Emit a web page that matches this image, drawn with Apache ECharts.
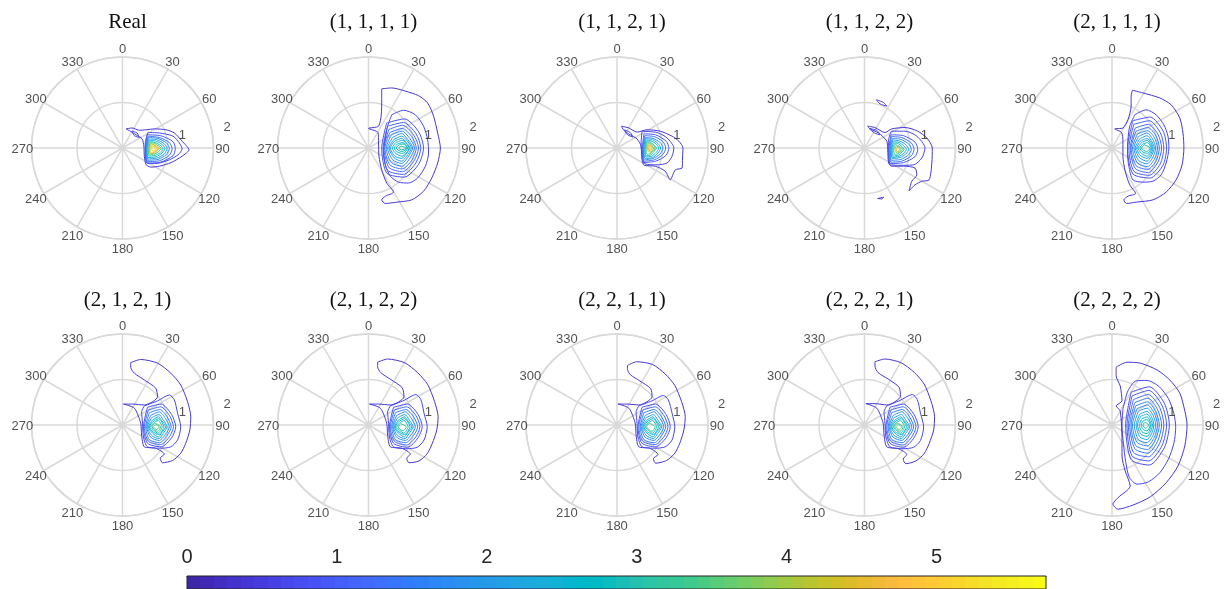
<!DOCTYPE html>
<html><head><meta charset="utf-8">
<script src="https://cdn.jsdelivr.net/npm/echarts@6/dist/echarts.min.js"></script>
<style>html,body{margin:0;padding:0;background:#fff}#c{width:1224px;height:589px}</style>
</head><body><div id="c"></div>
<script>
// ---------------- DATA ----------------
const titles = ['Real','(1, 1, 1, 1)','(1, 1, 2, 1)','(1, 1, 2, 2)','(2, 1, 1, 1)',
                '(2, 1, 2, 1)','(2, 1, 2, 2)','(2, 2, 1, 1)','(2, 2, 2, 1)','(2, 2, 2, 2)'];
const angleTicks = [0, 30, 60, 90, 120, 150, 180, 210, 240, 270, 300, 330];
const radiusMax = 2, radiusStep = 1;
const radialTicks = [1, 2];
const colorbarTicks = [0, 1, 2, 3, 4, 5];
const colorbarMax = 5.73;

// contour lines: [level, [[x, y], ...]]  (x = east, y = north, in radius units)
const contReal = [
 [0.4,[[0.08,0.42],[0.21,0.44],[0.37,0.39],[0.52,0.40],[0.70,0.42],[0.96,0.40],[1.14,0.33],[1.31,0.15],[1.46,-0.04],[1.31,-0.18],[1.07,-0.32],[0.81,-0.40],[0.63,-0.42],[0.52,-0.37],[0.48,-0.18],[0.47,0.04],[0.43,0.20],[0.30,0.29],[0.17,0.37]]],
 [0.65,[[0.21,0.37],[0.32,0.33],[0.37,0.23],[0.26,0.27]]],
 [0.65,[[0.56,0.34],[0.81,0.33],[1.11,0.26],[1.25,0.11],[1.31,-0.02],[1.22,-0.15],[1.03,-0.26],[0.74,-0.34],[0.56,-0.34],[0.50,-0.18],[0.50,0.11]]],
 [0.9,[[0.54,0.29],[0.84,0.27],[1.11,0.14],[1.16,-0.01],[1.11,-0.17],[0.84,-0.31],[0.53,-0.33],[0.51,-0.01]]],
 [1.3,[[0.56,0.26],[0.81,0.23],[1.03,0.12],[1.09,-0.01],[1.03,-0.16],[0.81,-0.28],[0.54,-0.30],[0.52,-0.01]]],
 [1.7,[[0.56,0.23],[0.78,0.21],[0.97,0.11],[1.03,-0.01],[0.97,-0.14],[0.78,-0.25],[0.55,-0.27],[0.53,-0.01]]],
 [2.1,[[0.57,0.20],[0.76,0.18],[0.92,0.09],[0.98,-0.01],[0.92,-0.13],[0.76,-0.22],[0.56,-0.24],[0.53,-0.01]]],
 [2.5,[[0.58,0.17],[0.74,0.15],[0.87,0.08],[0.93,-0.01],[0.87,-0.11],[0.74,-0.19],[0.56,-0.21],[0.54,-0.01]]],
 [3.0,[[0.59,0.14],[0.72,0.12],[0.83,0.06],[0.89,-0.01],[0.83,-0.10],[0.72,-0.16],[0.58,-0.18],[0.56,-0.01]]],
 [3.5,[[0.61,0.12],[0.71,0.10],[0.79,0.05],[0.85,-0.01],[0.79,-0.08],[0.71,-0.13],[0.59,-0.15],[0.57,-0.01]]],
 [4.0,[[0.62,0.10],[0.70,0.07],[0.75,0.04],[0.81,-0.01],[0.75,-0.07],[0.70,-0.11],[0.61,-0.13],[0.59,-0.01]]],
 [4.5,[[0.64,0.07],[0.69,0.06],[0.78,-0.01],[0.69,-0.10],[0.62,-0.11],[0.60,-0.01]]],
 [5.0,[[0.65,0.05],[0.75,-0.01],[0.69,-0.08],[0.62,-0.01]]],
 [5.4,[[0.67,0.03],[0.73,-0.01],[0.68,-0.07],[0.64,-0.01]]]
];
const cont1111 = [
 [0.4,[[0.29,1.30],[0.51,1.32],[0.81,1.25],[1.10,1.15],[1.30,0.99],[1.43,0.70],[1.52,0.33],[1.58,0],[1.52,-0.33],[1.39,-0.66],[1.21,-0.95],[0.95,-1.14],[0.62,-1.19],[0.37,-1.22],[0.29,-1.14],[0.37,-1.06],[0.55,-0.97],[0.40,-0.77],[0.29,-0.48],[0.23,-0.18],[0.22,0.11],[0.21,0.34],[0.00,0.43],[0.22,0.48],[0.28,0.73],[0.29,1.06]]],
 [0.6,[[0.51,0.73],[0.77,0.83],[1.03,0.73],[1.21,0.48],[1.30,0.18],[1.32,-0.11],[1.25,-0.40],[1.08,-0.66],[0.88,-0.77],[0.66,-0.75],[0.48,-0.62],[0.37,-0.37],[0.33,-0.07],[0.37,0.22],[0.42,0.48]]],
 [0.8,[[0.40,0.55],[0.79,0.64],[1.10,0.36],[1.21,0],[1.10,-0.36],[0.79,-0.64],[0.40,-0.55],[0.29,0]]],
 [1.0,[[0.42,0.48],[0.77,0.56],[1.04,0.32],[1.15,0],[1.04,-0.33],[0.77,-0.58],[0.42,-0.49],[0.32,0]]],
 [1.2,[[0.45,0.41],[0.75,0.50],[0.99,0.29],[1.10,0],[0.99,-0.30],[0.75,-0.52],[0.45,-0.43],[0.34,0]]],
 [1.4,[[0.47,0.34],[0.74,0.43],[0.95,0.25],[1.05,0],[0.95,-0.27],[0.74,-0.46],[0.47,-0.37],[0.36,0]]],
 [1.6,[[0.50,0.29],[0.74,0.37],[0.90,0.22],[1.01,0],[0.90,-0.24],[0.74,-0.40],[0.50,-0.32],[0.39,0]]],
 [1.8,[[0.53,0.23],[0.73,0.32],[0.86,0.19],[0.97,0],[0.86,-0.21],[0.73,-0.34],[0.53,-0.26],[0.42,0]]],
 [2.0,[[0.56,0.19],[0.73,0.26],[0.84,0.17],[0.94,0],[0.84,-0.18],[0.73,-0.29],[0.56,-0.21],[0.45,0]]],
 [2.2,[[0.57,0.15],[0.73,0.21],[0.82,0.13],[0.91,0],[0.82,-0.14],[0.73,-0.23],[0.57,-0.17],[0.48,0]]],
 [2.4,[[0.60,0.12],[0.74,0.17],[0.89,0],[0.74,-0.18],[0.60,-0.12],[0.52,0]]],
 [2.6,[[0.64,0.09],[0.75,0.12],[0.86,0],[0.75,-0.12],[0.64,-0.09],[0.56,0]]],
 [2.8,[[0.67,0.07],[0.76,0.09],[0.85,0],[0.73,-0.08],[0.61,0]]],
 [3.0,[[0.72,0.04],[0.84,0],[0.73,-0.04],[0.66,0]]]
];
const cont1121 = [
 [0.4,[[0.10,0.48],[0.26,0.44],[0.44,0.35],[0.66,0.40],[0.95,0.37],[1.21,0.26],[1.36,0.15],[1.45,0],[1.44,-0.22],[1.43,-0.44],[1.28,-0.48],[1.17,-0.70],[1.06,-0.51],[0.84,-0.40],[0.60,-0.38],[0.55,-0.26],[0.53,0.04],[0.44,0.20],[0.29,0.29],[0.15,0.39]]],
 [0.65,[[0.16,0.40],[0.29,0.34],[0.35,0.24],[0.23,0.29]]],
 [0.65,[[0.55,0.37],[0.88,0.34],[1.10,0.22],[1.25,0],[1.21,-0.18],[1.10,-0.33],[0.88,-0.37],[0.62,-0.35],[0.55,-0.18],[0.53,0.11]]],
 [0.9,[[0.59,0.31],[0.85,0.29],[1.08,0.15],[1.14,0],[1.08,-0.16],[0.85,-0.29],[0.58,-0.32],[0.56,0]]],
 [1.3,[[0.61,0.27],[0.82,0.25],[1.01,0.14],[1.07,0],[1.01,-0.14],[0.82,-0.26],[0.59,-0.29],[0.57,0]]],
 [1.7,[[0.62,0.23],[0.79,0.21],[0.95,0.12],[1.01,0],[0.95,-0.13],[0.79,-0.23],[0.60,-0.26],[0.58,0]]],
 [2.1,[[0.63,0.21],[0.78,0.18],[0.90,0.10],[0.96,0],[0.90,-0.11],[0.78,-0.21],[0.62,-0.23],[0.59,0]]],
 [2.5,[[0.64,0.18],[0.76,0.15],[0.86,0.09],[0.92,0],[0.86,-0.10],[0.76,-0.18],[0.63,-0.20],[0.61,0]]],
 [3.0,[[0.66,0.15],[0.75,0.12],[0.81,0.07],[0.87,0],[0.81,-0.08],[0.75,-0.15],[0.64,-0.17],[0.62,0]]],
 [3.5,[[0.67,0.12],[0.74,0.10],[0.84,0],[0.74,-0.12],[0.66,-0.14],[0.64,0]]],
 [4.0,[[0.69,0.10],[0.81,0],[0.73,-0.10],[0.66,0]]],
 [4.5,[[0.70,0.07],[0.78,0],[0.73,-0.07],[0.68,0]]],
 [4.9,[[0.72,0.05],[0.76,0],[0.73,-0.05],[0.70,0]]]
];
const cont1122 = [
 [0.4,[[0.07,0.48],[0.23,0.45],[0.45,0.34],[0.60,0.42],[0.89,0.45],[1.15,0.38],[1.37,0.22],[1.49,0],[1.48,-0.33],[1.42,-0.70],[1.26,-0.73],[1.11,-0.81],[0.98,-0.94],[1.04,-0.73],[1.15,-0.59],[1.11,-0.44],[0.86,-0.40],[0.60,-0.40],[0.53,-0.33],[0.51,-0.04],[0.49,0.15],[0.31,0.33],[0.12,0.42]]],
 [0.4,[[0.26,1.06],[0.42,1.00],[0.49,0.92],[0.34,0.97]]],
 [0.4,[[0.29,-1.11],[0.42,-1.08],[0.38,-1.12]]],
 [0.65,[[0.10,0.43],[0.27,0.39],[0.34,0.29],[0.22,0.33]]],
 [0.65,[[0.59,0.37],[0.89,0.37],[1.15,0.26],[1.33,0],[1.26,-0.22],[1.08,-0.37],[0.78,-0.38],[0.56,-0.37],[0.53,-0.11],[0.53,0.18]]],
 [0.9,[[0.58,0.29],[0.86,0.27],[1.11,0.13],[1.17,-0.03],[1.11,-0.19],[0.86,-0.32],[0.56,-0.34],[0.54,-0.03]]],
 [1.3,[[0.59,0.25],[0.82,0.23],[1.03,0.11],[1.09,-0.03],[1.03,-0.17],[0.82,-0.29],[0.58,-0.31],[0.56,-0.03]]],
 [1.7,[[0.61,0.21],[0.80,0.19],[0.97,0.09],[1.03,-0.03],[0.97,-0.15],[0.80,-0.25],[0.59,-0.27],[0.57,-0.03]]],
 [2.1,[[0.62,0.18],[0.78,0.15],[0.91,0.07],[0.97,-0.03],[0.91,-0.13],[0.78,-0.21],[0.61,-0.23],[0.59,-0.03]]],
 [2.5,[[0.64,0.14],[0.76,0.12],[0.86,0.05],[0.92,-0.03],[0.86,-0.12],[0.76,-0.18],[0.62,-0.21],[0.60,-0.03]]],
 [2.9,[[0.66,0.11],[0.75,0.09],[0.87,-0.03],[0.75,-0.15],[0.64,-0.18],[0.62,-0.03]]],
 [3.3,[[0.68,0.08],[0.84,-0.03],[0.74,-0.12],[0.67,-0.15],[0.64,-0.03]]],
 [3.8,[[0.70,0.05],[0.80,-0.03],[0.73,-0.12],[0.67,-0.03]]],
 [4.3,[[0.73,0.02],[0.77,-0.03],[0.73,-0.09],[0.70,-0.03]]]
];
const cont2111 = [
 [0.4,[[0.45,1.27],[0.68,1.21],[1.05,1.10],[1.30,0.95],[1.49,0.66],[1.56,0.33],[1.58,0],[1.54,-0.37],[1.41,-0.70],[1.19,-0.97],[0.90,-1.14],[0.53,-1.19],[0.32,-1.22],[0.26,-1.14],[0.35,-1.06],[0.52,-1.00],[0.39,-0.81],[0.29,-0.51],[0.24,-0.18],[0.24,0.15],[0.21,0.34],[0.06,0.42],[0.24,0.44],[0.35,0.62],[0.42,0.92],[0.42,1.14]]],
 [0.6,[[0.50,0.73],[0.75,0.84],[0.97,0.73],[1.14,0.51],[1.23,0.26],[1.25,0],[1.19,-0.33],[1.08,-0.59],[0.90,-0.73],[0.68,-0.75],[0.46,-0.70],[0.37,-0.40],[0.34,-0.11],[0.35,0.18],[0.39,0.48]]],
 [0.8,[[0.46,0.60],[0.84,0.68],[1.12,0.38],[1.20,0],[1.12,-0.38],[0.84,-0.66],[0.46,-0.57],[0.34,0]]],
 [1.0,[[0.48,0.52],[0.82,0.60],[1.06,0.34],[1.14,0],[1.06,-0.35],[0.82,-0.60],[0.48,-0.51],[0.37,0]]],
 [1.2,[[0.51,0.44],[0.80,0.52],[1.01,0.30],[1.09,0],[1.01,-0.31],[0.80,-0.54],[0.51,-0.45],[0.40,0]]],
 [1.4,[[0.53,0.37],[0.79,0.45],[0.97,0.26],[1.04,0],[0.97,-0.28],[0.79,-0.47],[0.53,-0.39],[0.42,0]]],
 [1.6,[[0.56,0.31],[0.78,0.38],[0.93,0.23],[1.00,0],[0.93,-0.25],[0.78,-0.41],[0.56,-0.33],[0.45,0]]],
 [1.8,[[0.58,0.25],[0.77,0.33],[0.89,0.20],[0.96,0],[0.89,-0.22],[0.77,-0.35],[0.58,-0.27],[0.48,0]]],
 [2.0,[[0.61,0.20],[0.77,0.27],[0.86,0.17],[0.93,0],[0.86,-0.18],[0.77,-0.29],[0.61,-0.22],[0.51,0]]],
 [2.2,[[0.63,0.16],[0.77,0.21],[0.85,0.13],[0.90,0],[0.85,-0.14],[0.77,-0.23],[0.63,-0.17],[0.54,0]]],
 [2.4,[[0.65,0.12],[0.77,0.17],[0.88,0],[0.77,-0.18],[0.65,-0.12],[0.57,0]]],
 [2.6,[[0.68,0.09],[0.78,0.12],[0.86,0],[0.78,-0.12],[0.68,-0.09],[0.61,0]]],
 [2.8,[[0.71,0.07],[0.84,0],[0.76,-0.08],[0.65,0]]]
];
const cont2121 = [
 [0.4,[[0.18,1.37],[0.40,1.44],[0.77,1.36],[1.06,1.14],[1.28,0.88],[1.43,0.51],[1.50,0.18],[1.48,-0.11],[1.39,-0.40],[1.28,-0.62],[1.10,-0.78],[0.88,-0.83],[0.83,-0.73],[0.92,-0.64],[0.73,-0.51],[0.48,-0.48],[0.42,-0.22],[0.40,0.04],[0.26,0.37],[0.02,0.46],[0.22,0.46],[0.48,0.44],[0.77,0.62],[0.73,0.81],[0.48,0.99],[0.26,1.14],[0.18,1.27]]],
 [0.6,[[0.48,0.42],[0.77,0.53],[1.03,0.66],[1.14,0.55],[1.21,0.26],[1.28,-0.04],[1.21,-0.33],[1.06,-0.48],[0.84,-0.51],[0.55,-0.48],[0.46,-0.26],[0.44,0.04],[0.42,0.29]]],
 [0.85,[[0.55,0.39],[0.85,0.46],[1.08,0.23],[1.17,-0.04],[1.08,-0.28],[0.85,-0.48],[0.55,-0.40],[0.46,-0.04]]],
 [1.15,[[0.57,0.33],[0.84,0.40],[1.03,0.21],[1.12,-0.04],[1.03,-0.26],[0.84,-0.43],[0.57,-0.36],[0.48,-0.04]]],
 [1.45,[[0.59,0.27],[0.82,0.34],[0.98,0.18],[1.07,-0.04],[0.98,-0.23],[0.82,-0.39],[0.59,-0.32],[0.51,-0.04]]],
 [1.75,[[0.62,0.21],[0.81,0.29],[0.94,0.15],[1.03,-0.04],[0.94,-0.21],[0.81,-0.34],[0.62,-0.27],[0.53,-0.04]]],
 [2.05,[[0.64,0.16],[0.80,0.23],[0.89,0.12],[0.98,-0.04],[0.89,-0.19],[0.80,-0.30],[0.64,-0.23],[0.55,-0.04]]],
 [2.35,[[0.66,0.11],[0.79,0.18],[0.86,0.10],[0.95,-0.04],[0.86,-0.17],[0.79,-0.26],[0.66,-0.18],[0.57,-0.04]]],
 [2.65,[[0.67,0.08],[0.79,0.14],[0.91,-0.04],[0.79,-0.21],[0.67,-0.15],[0.59,-0.04]]],
 [2.95,[[0.69,0.05],[0.78,0.10],[0.87,-0.04],[0.78,-0.18],[0.69,-0.12],[0.62,-0.04]]],
 [3.25,[[0.71,0.04],[0.84,-0.04],[0.77,-0.14],[0.65,-0.04]]],
 [3.55,[[0.73,0.01],[0.81,-0.04],[0.75,-0.10],[0.68,-0.04]]]
];
const cont2122 = [
 [0.4,[[0.20,1.38],[0.42,1.45],[0.79,1.37],[1.08,1.15],[1.30,0.89],[1.45,0.52],[1.53,0.18],[1.50,-0.11],[1.40,-0.41],[1.29,-0.63],[1.11,-0.79],[0.89,-0.83],[0.84,-0.73],[0.92,-0.64],[0.73,-0.51],[0.48,-0.48],[0.42,-0.22],[0.40,0.04],[0.26,0.37],[0.02,0.46],[0.22,0.46],[0.48,0.44],[0.78,0.62],[0.74,0.82],[0.49,1.00],[0.27,1.15],[0.20,1.28]]],
 [0.6,[[0.48,0.42],[0.78,0.54],[1.04,0.67],[1.15,0.56],[1.22,0.26],[1.29,-0.04],[1.22,-0.33],[1.07,-0.49],[0.85,-0.52],[0.55,-0.48],[0.46,-0.26],[0.44,0.04],[0.42,0.29]]],
 [0.85,[[0.55,0.39],[0.86,0.46],[1.09,0.23],[1.18,-0.04],[1.09,-0.28],[0.86,-0.49],[0.55,-0.40],[0.46,-0.04]]],
 [1.15,[[0.57,0.33],[0.84,0.40],[1.04,0.21],[1.13,-0.04],[1.04,-0.26],[0.84,-0.44],[0.57,-0.36],[0.48,-0.04]]],
 [1.45,[[0.59,0.27],[0.82,0.34],[0.99,0.18],[1.08,-0.04],[0.99,-0.23],[0.82,-0.39],[0.59,-0.32],[0.51,-0.04]]],
 [1.75,[[0.62,0.21],[0.81,0.29],[0.94,0.15],[1.03,-0.04],[0.94,-0.21],[0.81,-0.34],[0.62,-0.27],[0.53,-0.04]]],
 [2.05,[[0.64,0.16],[0.80,0.23],[0.89,0.12],[0.98,-0.04],[0.89,-0.19],[0.80,-0.30],[0.64,-0.23],[0.55,-0.04]]],
 [2.35,[[0.66,0.11],[0.79,0.18],[0.86,0.10],[0.95,-0.04],[0.86,-0.17],[0.79,-0.26],[0.66,-0.18],[0.57,-0.04]]],
 [2.65,[[0.67,0.08],[0.79,0.14],[0.91,-0.04],[0.79,-0.21],[0.67,-0.15],[0.59,-0.04]]],
 [2.95,[[0.69,0.05],[0.78,0.10],[0.87,-0.04],[0.78,-0.18],[0.69,-0.12],[0.62,-0.04]]],
 [3.25,[[0.71,0.03],[0.83,-0.04],[0.76,-0.13],[0.65,-0.04]]]
];
const cont2211 = [
 [0.4,[[0.23,1.31],[0.43,1.39],[0.78,1.33],[1.06,1.12],[1.27,0.87],[1.42,0.51],[1.50,0.18],[1.47,-0.11],[1.38,-0.40],[1.27,-0.62],[1.09,-0.78],[0.85,-0.84],[0.80,-0.74],[0.90,-0.65],[0.72,-0.51],[0.48,-0.48],[0.42,-0.22],[0.40,0.04],[0.26,0.37],[0.02,0.46],[0.22,0.46],[0.48,0.44],[0.77,0.62],[0.74,0.80],[0.50,0.97],[0.30,1.10],[0.23,1.22]]],
 [0.6,[[0.48,0.42],[0.77,0.53],[1.02,0.65],[1.13,0.55],[1.21,0.26],[1.27,-0.04],[1.21,-0.33],[1.06,-0.48],[0.84,-0.51],[0.55,-0.48],[0.46,-0.26],[0.44,0.04],[0.42,0.29]]],
 [0.85,[[0.55,0.39],[0.85,0.46],[1.08,0.23],[1.17,-0.04],[1.08,-0.28],[0.85,-0.48],[0.55,-0.40],[0.46,-0.04]]],
 [1.15,[[0.57,0.33],[0.84,0.40],[1.03,0.21],[1.12,-0.04],[1.03,-0.26],[0.84,-0.43],[0.57,-0.36],[0.48,-0.04]]],
 [1.45,[[0.59,0.27],[0.82,0.34],[0.98,0.18],[1.07,-0.04],[0.98,-0.23],[0.82,-0.39],[0.59,-0.32],[0.51,-0.04]]],
 [1.75,[[0.62,0.21],[0.81,0.29],[0.94,0.15],[1.03,-0.04],[0.94,-0.21],[0.81,-0.34],[0.62,-0.27],[0.53,-0.04]]],
 [2.05,[[0.64,0.16],[0.80,0.23],[0.89,0.12],[0.98,-0.04],[0.89,-0.19],[0.80,-0.30],[0.64,-0.23],[0.55,-0.04]]],
 [2.35,[[0.66,0.11],[0.79,0.18],[0.86,0.10],[0.95,-0.04],[0.86,-0.17],[0.79,-0.26],[0.66,-0.18],[0.57,-0.04]]],
 [2.65,[[0.67,0.08],[0.79,0.14],[0.91,-0.04],[0.79,-0.21],[0.67,-0.15],[0.59,-0.04]]],
 [2.95,[[0.69,0.05],[0.78,0.10],[0.87,-0.04],[0.78,-0.18],[0.69,-0.12],[0.62,-0.04]]],
 [3.25,[[0.71,0.04],[0.84,-0.04],[0.77,-0.14],[0.65,-0.04]]]
];
const cont2221 = [
 [0.4,[[0.23,1.39],[0.45,1.45],[0.80,1.37],[1.09,1.16],[1.31,0.90],[1.46,0.53],[1.54,0.18],[1.52,-0.11],[1.42,-0.41],[1.31,-0.63],[1.13,-0.79],[0.91,-0.85],[0.85,-0.75],[0.93,-0.65],[0.74,-0.52],[0.49,-0.48],[0.43,-0.22],[0.41,0.04],[0.27,0.37],[0.03,0.47],[0.23,0.47],[0.49,0.44],[0.79,0.63],[0.76,0.83],[0.52,1.01],[0.30,1.15],[0.23,1.29]]],
 [0.6,[[0.49,0.42],[0.78,0.54],[1.05,0.67],[1.16,0.56],[1.23,0.26],[1.30,-0.04],[1.23,-0.34],[1.08,-0.49],[0.85,-0.52],[0.56,-0.48],[0.47,-0.26],[0.45,0.04],[0.43,0.29]]],
 [0.85,[[0.56,0.39],[0.86,0.46],[1.09,0.23],[1.18,-0.04],[1.09,-0.28],[0.86,-0.49],[0.56,-0.40],[0.47,-0.04]]],
 [1.15,[[0.58,0.33],[0.85,0.40],[1.04,0.21],[1.13,-0.04],[1.04,-0.26],[0.85,-0.44],[0.58,-0.36],[0.49,-0.04]]],
 [1.45,[[0.60,0.27],[0.83,0.34],[0.99,0.18],[1.08,-0.04],[0.99,-0.23],[0.83,-0.39],[0.60,-0.32],[0.52,-0.04]]],
 [1.75,[[0.63,0.21],[0.82,0.29],[0.95,0.15],[1.04,-0.04],[0.95,-0.21],[0.82,-0.34],[0.63,-0.27],[0.54,-0.04]]],
 [2.05,[[0.65,0.16],[0.81,0.23],[0.90,0.12],[0.99,-0.04],[0.90,-0.19],[0.81,-0.30],[0.65,-0.23],[0.56,-0.04]]],
 [2.35,[[0.67,0.11],[0.80,0.18],[0.87,0.10],[0.96,-0.04],[0.87,-0.17],[0.80,-0.26],[0.67,-0.18],[0.58,-0.04]]],
 [2.65,[[0.68,0.08],[0.80,0.14],[0.92,-0.04],[0.80,-0.21],[0.68,-0.15],[0.60,-0.04]]],
 [2.95,[[0.70,0.05],[0.79,0.10],[0.88,-0.04],[0.79,-0.18],[0.70,-0.12],[0.63,-0.04]]],
 [3.25,[[0.72,0.04],[0.85,-0.04],[0.78,-0.14],[0.66,-0.04]]],
 [3.6,[[0.74,0.01],[0.82,-0.04],[0.76,-0.10],[0.69,-0.04]]]
];
const cont2222 = [
 [0.4,[[0.09,1.27],[0.33,1.38],[0.62,1.36],[0.99,1.21],[1.27,0.99],[1.49,0.70],[1.60,0.31],[1.65,0],[1.60,-0.46],[1.45,-0.90],[1.19,-1.27],[0.84,-1.58],[0.46,-1.76],[0.13,-1.85],[0.02,-1.74],[0.13,-1.60],[0.40,-1.34],[0.29,-1.01],[0.22,-0.68],[0.22,-0.35],[0.18,0.31],[0.09,0.42],[0.22,0.53],[0.18,0.86],[0.09,1.08]]],
 [0.6,[[0.24,0.35],[0.35,0.75],[0.53,0.97],[0.77,0.98],[1.03,0.85],[1.24,0.58],[1.36,0.25],[1.40,-0.05],[1.36,-0.40],[1.24,-0.75],[1.05,-1.05],[0.80,-1.25],[0.55,-1.30],[0.38,-1.15],[0.30,-0.80],[0.25,-0.40],[0.22,0]]],
 [0.75,[[0.42,0.72],[0.82,0.84],[1.15,0.48],[1.26,0],[1.15,-0.50],[0.82,-0.88],[0.42,-0.76],[0.30,0]]],
 [0.95,[[0.44,0.64],[0.81,0.76],[1.10,0.43],[1.20,0],[1.10,-0.45],[0.81,-0.79],[0.44,-0.68],[0.33,0]]],
 [1.15,[[0.47,0.56],[0.80,0.67],[1.05,0.38],[1.14,0],[1.05,-0.40],[0.80,-0.70],[0.47,-0.60],[0.36,0]]],
 [1.35,[[0.50,0.49],[0.79,0.59],[1.00,0.34],[1.09,0],[1.00,-0.36],[0.79,-0.62],[0.50,-0.52],[0.39,0]]],
 [1.55,[[0.52,0.42],[0.78,0.51],[0.96,0.30],[1.04,0],[0.96,-0.31],[0.78,-0.54],[0.52,-0.45],[0.42,0]]],
 [1.75,[[0.55,0.36],[0.78,0.44],[0.93,0.26],[1.00,0],[0.93,-0.27],[0.78,-0.46],[0.55,-0.38],[0.45,0]]],
 [1.95,[[0.58,0.30],[0.77,0.37],[0.90,0.22],[0.96,0],[0.90,-0.23],[0.77,-0.39],[0.58,-0.32],[0.49,0]]],
 [2.15,[[0.61,0.24],[0.77,0.30],[0.87,0.18],[0.92,0],[0.87,-0.19],[0.77,-0.32],[0.61,-0.26],[0.53,0]]],
 [2.35,[[0.63,0.19],[0.77,0.24],[0.89,0],[0.77,-0.25],[0.63,-0.20],[0.56,0]]],
 [2.55,[[0.66,0.14],[0.77,0.18],[0.86,0],[0.77,-0.19],[0.66,-0.15],[0.60,0]]],
 [2.75,[[0.69,0.10],[0.77,0.12],[0.84,0],[0.77,-0.13],[0.69,-0.10],[0.64,0]]],
 [2.95,[[0.72,0.06],[0.81,0],[0.74,-0.07],[0.68,0]]]
];
const plotContours = [contReal, cont1111, cont1121, cont1122, cont2111,
                      cont2121, cont2122, cont2211, cont2221, cont2222];

// ---------------- STYLE ----------------
const colX = [122.5, 368.5, 617, 864.5, 1112];
const rowY = [148, 425];
const polarR = 91;
const angleLabelR = 2.2;     // radius (in axis units) where angle labels are centred
const radialLabelAngle = 80;
const titleTop = [7, 285];
const gridColor = '#d9d9d9';
const textColor = '#262626';
const PARULA = [[0.2422,0.1504,0.6603],[0.2504,0.1650,0.7076],[0.2578,0.1818,0.7511],[0.2647,0.1978,0.7952],[0.2706,0.2147,0.8364],[0.2751,0.2342,0.8710],[0.2783,0.2559,0.8991],[0.2803,0.2782,0.9221],[0.2813,0.3006,0.9414],[0.2810,0.3228,0.9579],[0.2795,0.3447,0.9717],[0.2760,0.3667,0.9829],[0.2699,0.3892,0.9906],[0.2602,0.4123,0.9952],[0.2440,0.4358,0.9988],[0.2206,0.4603,0.9973],[0.1963,0.4847,0.9892],[0.1834,0.5074,0.9798],[0.1786,0.5289,0.9682],[0.1764,0.5499,0.9520],[0.1687,0.5703,0.9359],[0.1540,0.5902,0.9218],[0.1460,0.6091,0.9079],[0.1380,0.6276,0.8973],[0.1248,0.6459,0.8883],[0.1113,0.6635,0.8763],[0.0952,0.6798,0.8598],[0.0689,0.6948,0.8394],[0.0297,0.7082,0.8163],[0.0036,0.7203,0.7917],[0.0067,0.7312,0.7660],[0.0433,0.7411,0.7394],[0.0964,0.7500,0.7120],[0.1408,0.7584,0.6842],[0.1717,0.7670,0.6554],[0.1938,0.7758,0.6251],[0.2161,0.7843,0.5923],[0.2470,0.7918,0.5567],[0.2906,0.7973,0.5188],[0.3406,0.8008,0.4789],[0.3909,0.8029,0.4354],[0.4456,0.8024,0.3909],[0.5044,0.7993,0.3480],[0.5616,0.7942,0.3045],[0.6174,0.7876,0.2612],[0.6720,0.7793,0.2227],[0.7242,0.7698,0.1910],[0.7738,0.7598,0.1646],[0.8203,0.7498,0.1535],[0.8634,0.7406,0.1596],[0.9035,0.7330,0.1774],[0.9393,0.7288,0.2100],[0.9728,0.7298,0.2394],[0.9956,0.7434,0.2371],[0.9970,0.7659,0.2199],[0.9952,0.7893,0.2028],[0.9892,0.8136,0.1885],[0.9786,0.8386,0.1766],[0.9676,0.8639,0.1643],[0.9610,0.8890,0.1537],[0.9597,0.9135,0.1423],[0.9628,0.9373,0.1265],[0.9691,0.9606,0.1064],[0.9769,0.9839,0.0805]];
function rgbOf(c){ return 'rgb(' + c.map(x => Math.round(x*255)).join(',') + ')'; }
function parula(v){
  const t = Math.max(0, Math.min(1, v / colorbarMax));
  return rgbOf(PARULA[Math.round(t * (PARULA.length - 1))]);
}
// (east, north) -> [radius, angle clockwise from north]
function toPolar(p){
  const r = Math.hypot(p[0], p[1]);
  let a = Math.atan2(p[0], p[1]) * 180 / Math.PI;
  if (a < 0) a += 360;
  return [r, a];
}

// ---------------- BUILD ----------------
const chart = echarts.init(document.getElementById('c'), null, {renderer:'canvas'});
const polar = [], angleAxis = [], radiusAxis = [], series = [], title = [];
const sansFont = 'Liberation Sans, Arial, Helvetica, sans-serif';
plotContours.forEach((conts, i) => {
  const cx = colX[i % 5], cy = rowY[Math.floor(i / 5)];
  polar.push({center:[cx, cy], radius: polarR});
  angleAxis.push({
    polarIndex: i, type:'value', min: 0, max: 360, interval: angleTicks[1] - angleTicks[0],
    startAngle: 90, clockwise: true,
    axisLine:{show:true, lineStyle:{color:gridColor, width:1.5}},
    axisTick:{show:false}, axisLabel:{show:false},
    splitLine:{show:true, lineStyle:{color:gridColor, width:1.5}}
  });
  radiusAxis.push({
    polarIndex: i, type:'value', min:0, max: radiusMax, interval: radiusStep,
    axisLine:{show:false}, axisTick:{show:false}, axisLabel:{show:false},
    splitLine:{show:true, lineStyle:{color:gridColor, width:1.5}}
  });
  title.push({
    text: titles[i], left: cx, top: titleTop[Math.floor(i / 5)], textAlign:'center',
    textStyle:{fontFamily:'Liberation Serif, Times New Roman, serif', fontSize:21, fontWeight:'normal', color:'#111'}
  });
  conts.forEach(([lv, pts]) => {
    const pp = pts.map(toPolar);
    series.push({
      type:'line', coordinateSystem:'polar', polarIndex:i,
      data: pp.concat([pp[0]]), symbol:'none', silent:true, animation:false,
      smooth:0.25, clip:false,
      lineStyle:{width:1, color: parula(lv)}, z: 3
    });
  });
  // angle tick labels
  series.push({
    type:'scatter', coordinateSystem:'polar', polarIndex:i, silent:true, animation:false, clip:false,
    data: angleTicks.map(a => [angleLabelR, a]),
    symbolSize:1, itemStyle:{color:'rgba(0,0,0,0)'}, z: 5,
    label:{show:true, position:'inside', offset:[0,1.5], formatter: p => String(p.value[1]),
      color:textColor, fontSize:13, fontFamily:sansFont}
  });
  // radial tick labels
  series.push({
    type:'scatter', coordinateSystem:'polar', polarIndex:i, silent:true, animation:false, clip:false,
    data: radialTicks.map(r => [r, radialLabelAngle]),
    symbolSize:1, itemStyle:{color:'rgba(0,0,0,0)'}, z: 5,
    label:{show:true, position:'right', distance:11, offset:[0,-5], formatter: p => String(p.value[0]),
      color:textColor, fontSize:13, fontFamily:sansFont}
  });
});

// colorbar
const cbStops = [];
PARULA.forEach((c, k) => {
  cbStops.push({offset: k / PARULA.length, color: rgbOf(c)});
  cbStops.push({offset: (k + 1) / PARULA.length, color: rgbOf(c)});
});
series.push({
  type:'bar', xAxisIndex:0, yAxisIndex:0, data:[colorbarMax], barWidth:'100%', silent:true, animation:false,
  itemStyle:{color: new echarts.graphic.LinearGradient(0,0,1,0, cbStops)}, z:1
});

chart.setOption({
  backgroundColor:'#ffffff',
  animation:false,
  title, polar, angleAxis, radiusAxis,
  grid:[{left:187, right:178, top:576, height:40, show:true, borderColor:textColor, borderWidth:1, backgroundColor:'transparent', z:3}],
  xAxis:[{gridIndex:0, type:'value', min:0, max:colorbarMax, interval:1, position:'top',
    axisLine:{show:true, lineStyle:{color:textColor, width:1}},
    axisTick:{show:true, inside:true, length:6, lineStyle:{color:textColor}},
    splitLine:{show:false},
    axisLabel:{show:true, color:textColor, fontSize:20, margin:9, fontFamily:sansFont,
      formatter: v => (colorbarTicks.indexOf(v) >= 0 ? String(v) : ''), showMaxLabel:false}
  }],
  yAxis:[{gridIndex:0, type:'category', data:[''], show:false}],
  series
});
</script>
</body></html>
